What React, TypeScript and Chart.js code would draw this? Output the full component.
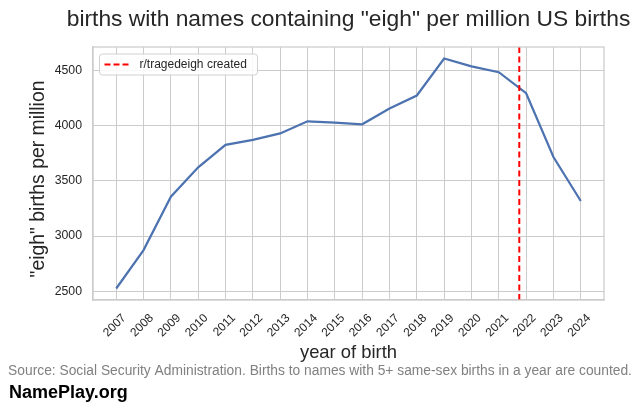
import { useEffect, useRef } from "react";
import { Chart, registerables } from "chart.js";

Chart.register(...registerables);

// data
const years = [2007, 2008, 2009, 2010, 2011, 2012, 2013, 2014, 2015, 2016, 2017, 2018, 2019, 2020, 2021, 2022, 2023, 2024];
const perMillion = [2524, 2873, 3358, 3624, 3828, 3873, 3932, 4042, 4030, 4015, 4158, 4276, 4612, 4540, 4488, 4297, 3718, 3318];
const yTicks = [2500, 3000, 3500, 4000, 4500];
const subredditCreated = 2021.75;

const titleText = 'births with names containing "eigh" per million US births';
const xTitle = "year of birth";
const yTitle = '"eigh" births per million';
const legendLabel = "r/tragedeigh created";
const sourceText =
  "Source: Social Security Administration. Births to names with 5+ same-sex births in a year are counted.";
const brandText = "NamePlay.org";

const FONT = "'Liberation Sans', Arial, sans-serif";
const INK = "#262626";
const GRID = "#cccccc";
const BLUE = "#4c72b0";
const RED = "#ff0000";

// matplotlib-like 5% margins
const yPad = (Math.max(...perMillion) - Math.min(...perMillion)) * 0.05;
const yMin = Math.min(...perMillion) - yPad;
const yMax = Math.max(...perMillion) + yPad;
const xPad = (years[years.length - 1] - years[0]) * 0.05;
const xMin = years[0] - xPad;
const xMax = years[years.length - 1] + xPad;

const decor = {
  id: "decor",
  beforeDraw(chart: Chart) {
    const { ctx, width, height } = chart;
    ctx.save();
    ctx.fillStyle = "#ffffff";
    ctx.fillRect(0, 0, width, height);
    ctx.restore();
  },
  afterDraw(chart: Chart) {
    const { ctx, chartArea: a, width } = chart;
    ctx.save();

    // frame
    ctx.strokeStyle = GRID;
    ctx.lineWidth = 1.25;
    ctx.strokeRect(a.left, a.top, a.right - a.left, a.bottom - a.top);

    // legend box
    const bx = a.left + 6.5;
    const by = a.top + 7;
    const bw = 158;
    const bh = 21;
    ctx.beginPath();
    ctx.roundRect(bx, by, bw, bh, 3);
    ctx.fillStyle = "rgba(255,255,255,0.85)";
    ctx.fill();
    ctx.strokeStyle = "rgba(204,204,204,0.9)";
    ctx.lineWidth = 1;
    ctx.stroke();
    ctx.beginPath();
    ctx.setLineDash([6, 3]);
    ctx.strokeStyle = RED;
    ctx.lineWidth = 2;
    ctx.moveTo(bx + 5, by + bh / 2);
    ctx.lineTo(bx + 31, by + bh / 2);
    ctx.stroke();
    ctx.setLineDash([]);
    ctx.fillStyle = INK;
    ctx.font = `12px ${FONT}`;
    ctx.textBaseline = "middle";
    ctx.textAlign = "left";
    ctx.fillText(legendLabel, bx + 40, by + bh / 2 + 0.5);

    // title over the plot area
    ctx.font = `22.8px ${FONT}`;
    ctx.textAlign = "center";
    ctx.fillStyle = INK;
    ctx.fillText(titleText, (a.left + a.right) / 2, 20);

    // y axis title
    ctx.save();
    ctx.translate(38.5, (a.top + a.bottom) / 2 + 5.5);
    ctx.rotate(-Math.PI / 2);
    ctx.font = `19.4px ${FONT}`;
    ctx.fillText(yTitle, 0, 0);
    ctx.restore();

    // source note
    ctx.font = `13.8px ${FONT}`;
    ctx.fillStyle = "#808080";
    ctx.fillText(sourceText, width / 2, 371);

    // brand
    ctx.font = `bold 18px ${FONT}`;
    ctx.fillStyle = "#000000";
    ctx.textAlign = "left";
    ctx.fillText(brandText, 9, 393);
    ctx.restore();
  },
};

export default function App() {
  const ref = useRef<HTMLCanvasElement>(null);

  useEffect(() => {
    document.body.style.margin = "0";
    if (!ref.current) return;
    const chart = new Chart(ref.current, {
      type: "line",
      data: {
        datasets: [
          {
            label: legendLabel,
            data: [
              { x: subredditCreated, y: yMin },
              { x: subredditCreated, y: yMax },
            ],
            borderColor: RED,
            borderWidth: 2,
            borderDash: [6, 3.5],
            pointRadius: 0,
          },
          {
            label: "births per million",
            data: years.map((y, i) => ({ x: y, y: perMillion[i] })),
            borderColor: BLUE,
            borderWidth: 2.2,
            pointRadius: 0,
            tension: 0,
          },
        ],
      },
      options: {
        animation: false,
        responsive: false,
        devicePixelRatio: 1,
        layout: { padding: { top: 47, right: 36, left: 0, bottom: 0 } },
        plugins: { legend: { display: false }, tooltip: { enabled: false }, title: { display: false } },
        scales: {
          x: {
            type: "linear",
            min: xMin,
            max: xMax,
            afterBuildTicks: (s: any) => {
              s.ticks = years.map((v) => ({ value: v }));
            },
            afterFit: (s: any) => {
              s.height = 111;
            },
            grid: { color: GRID, lineWidth: 1, drawTicks: false },
            border: { color: GRID, width: 1.25 },
            ticks: {
              color: INK,
              font: { family: FONT, size: 12 },
              minRotation: 45,
              maxRotation: 45,
              autoSkip: false,
              padding: 11,
              labelOffset: 8,
              callback: (v: any) => String(v),
            },
            title: {
              display: true,
              text: xTitle,
              color: INK,
              font: { family: FONT, size: 18.4 },
              padding: { top: 0, bottom: 47 },
            },
          },
          y: {
            type: "linear",
            min: yMin,
            max: yMax,
            afterBuildTicks: (s: any) => {
              s.ticks = yTicks.map((v) => ({ value: v }));
            },
            afterFit: (s: any) => {
              s.width = 93;
            },
            grid: { color: GRID, lineWidth: 1, drawTicks: false },
            border: { color: GRID, width: 1.25 },
            ticks: {
              color: INK,
              font: { family: FONT, size: 12.3 },
              padding: 11,
              callback: (v: any) => String(v),
            },
            title: { display: false },
          },
        },
      },
      plugins: [decor],
    });
    return () => chart.destroy();
  }, []);

  return (
    <div style={{ width: 640, height: 411 }}>
      <canvas ref={ref} width={640} height={411} style={{ width: 640, height: 411 }} />
    </div>
  );
}
